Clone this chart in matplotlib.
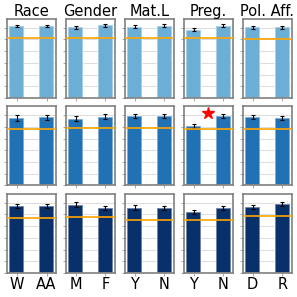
import numpy as np
import matplotlib
matplotlib.use("Agg")
import matplotlib.pyplot as plt

# panel titles and the two groups in each panel
titles = ["Race", "Gender", "Mat.L", "Preg.", "Pol. Aff."]
groups = [["W", "AA"], ["M", "F"], ["Y", "N"], ["Y", "N"], ["D", "R"]]

# bar heights per row (one row per model)
row1 = [[0.616, 0.616], [0.605, 0.622], [0.610, 0.619], [0.585, 0.619], [0.605, 0.605]]
row2 = [[0.576, 0.582], [0.570, 0.587], [0.593, 0.591], [0.507, 0.591], [0.585, 0.576]]
row3 = [[0.573, 0.570], [0.584, 0.556], [0.558, 0.556], [0.521, 0.556], [0.564, 0.590]]

err1 = [[0.012, 0.012], [0.012, 0.012], [0.012, 0.012], [0.012, 0.012], [0.012, 0.012]]
err2 = [[0.022, 0.020], [0.022, 0.020], [0.018, 0.018], [0.015, 0.018], [0.020, 0.020]]
err3 = [[0.020, 0.018], [0.018, 0.020], [0.020, 0.020], [0.020, 0.020], [0.018, 0.018]]

# overall baseline per panel (orange line)
base1 = [0.509, 0.515, 0.515, 0.512, 0.504]
base2 = [0.482, 0.487, 0.490, 0.484, 0.482]
base3 = [0.470, 0.481, 0.456, 0.453, 0.490]

# significance marker: (row, column, height)
stars = [(1, 3, 0.619)]

rows = [row1, row2, row3]
errs = [err1, err2, err3]
bases = [base1, base2, base3]
colors = ["#6baed6", "#2171b5", "#08306b"]

fig, axes = plt.subplots(3, 5, figsize=(2.97, 2.97), dpi=100)
fig.subplots_adjust(left=0.024, right=0.983, top=0.936, bottom=0.081,
                    wspace=0.2, hspace=0.107)

for r in range(3):
    for c in range(5):
        ax = axes[r, c]
        x = np.arange(2)
        ax.bar(x, rows[r][c], width=0.5, color=colors[r],
               edgecolor=(1, 1, 1, 0.5), linewidth=1.2, zorder=2)
        ax.errorbar(x, rows[r][c], yerr=errs[r][c], fmt="none", ecolor="black",
                    elinewidth=0.8, capsize=1.5, capthick=0.8, zorder=3)
        ax.axhline(bases[r][c], color="orange", lw=1.2, zorder=4)
        ax.set_ylim(0, 0.675)
        ax.set_xlim(-0.325, 1.325)
        ax.set_yticks(np.arange(0, 0.7, 0.1))
        ax.set_yticklabels([])
        ax.set_xticks(x)
        if r == 2:
            ax.set_xticklabels(groups[c], fontsize=10.5)
        else:
            ax.set_xticklabels([])
        if r == 0:
            ax.set_title(titles[c], fontsize=10.5, pad=2)
        ax.grid(axis="y", color="#dddddd", lw=0.8, zorder=0)
        ax.set_axisbelow(True)
        ax.tick_params(length=2, width=0.6, color="#999999", pad=1)
        for s in ax.spines.values():
            s.set_color("#808080")
            s.set_linewidth(1.2)

for r, c, h in stars:
    axes[r, c].plot(0.5, h, marker="*", color="red", markersize=9, zorder=5)

fig.savefig("out.png", dpi=100)
